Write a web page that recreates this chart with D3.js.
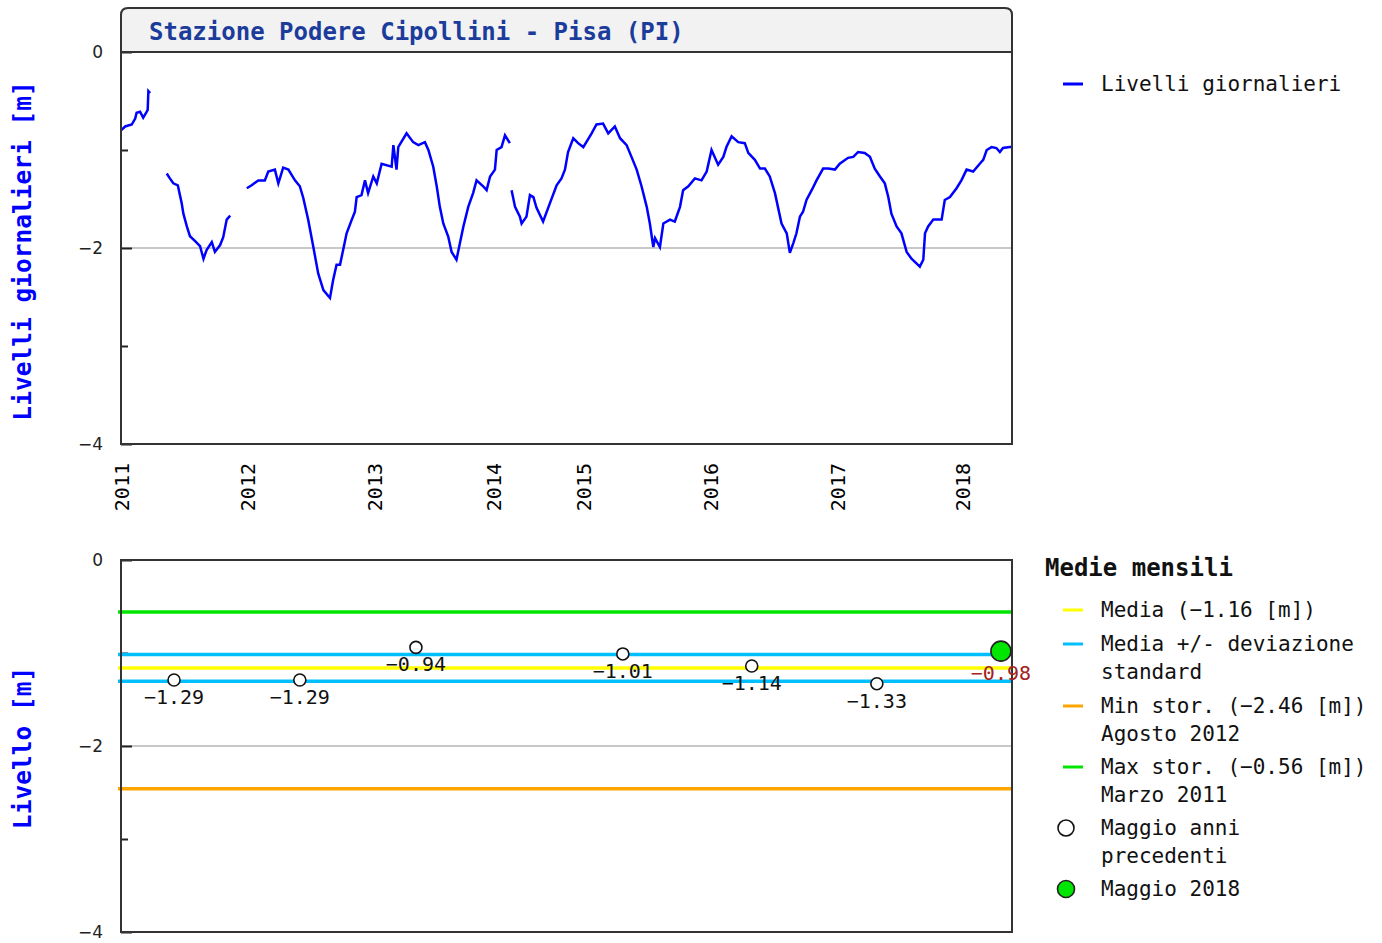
<!DOCTYPE html>
<html>
<head>
<meta charset="utf-8">
<script src="https://cdn.jsdelivr.net/npm/d3@7"></script>
<style>
  body { margin: 0; background: #fff; }
  svg { display: block; }
</style>
</head>
<body>
<div id="chart"></div>
<script>
// x axis = progressive day of record (days without data are not counted)
const yearLabels = ["2011", "2012", "2013", "2014", "2015", "2016", "2017", "2018"];
const yearStartDay = [0, 365, 731, 1073, 1333, 1699, 2066, 2429];
const lastDay = 2571;

// daily levels [m], null = missing data
const dailyDay = [
  0, 12, 31, 41, 45, 55, 64, 71, 77, 79, 84,
  108,
  132, 141, 151, 164, 167, 175, 180, 190, 199, 214, 228, 238, 247, 262, 271, 286, 295, 305, 315,
  340,
  363, 377, 396, 415, 425, 444, 454, 468, 483, 502, 516, 526, 540, 555, 569, 584, 603, 612, 622, 632,
  641, 651, 666, 675, 680, 694, 704, 713, 728, 738, 752, 781, 786, 795, 800, 824, 843, 858, 877, 887,
  901, 911, 920, 930, 944, 954, 968, 978, 988, 1002, 1016, 1026, 1045, 1055, 1065, 1079, 1084, 1098, 1108, 1122,
  1125,
  1127, 1137, 1151, 1156, 1170, 1180, 1190, 1199, 1218, 1238, 1257, 1271, 1281, 1290, 1305, 1319, 1334, 1358, 1372,
  1391, 1406, 1425, 1440, 1459, 1473, 1488, 1502, 1517, 1526, 1536, 1541, 1555, 1565, 1584, 1598, 1613, 1622, 1637, 1656,
  1675, 1690, 1704, 1723, 1738, 1747, 1762, 1781, 1800, 1810, 1829, 1844, 1858, 1872, 1887, 1906, 1921, 1930, 1940, 1949,
  1959, 1968, 1978, 1993, 2007, 2026, 2041, 2060, 2074, 2098, 2113, 2127, 2146, 2161, 2175, 2190, 2204, 2214, 2223, 2238,
  2252, 2267, 2281, 2296, 2305, 2315, 2320, 2329, 2344, 2368, 2377, 2392, 2411, 2425, 2440, 2459, 2478, 2488, 2498, 2512,
  2526, 2536, 2545, 2565, 2570
];
const dailyLevel = [
  -0.80, -0.76, -0.74, -0.68, -0.62, -0.61, -0.67, -0.63, -0.59, -0.40, -0.42,
  null,
  -1.24, -1.29, -1.34, -1.36, -1.41, -1.54, -1.65, -1.78, -1.88, -1.93, -1.98, -2.11, -2.02, -1.94, -2.04, -1.97, -1.89, -1.71, -1.67,
  null,
  -1.39, -1.36, -1.31, -1.31, -1.22, -1.20, -1.34, -1.18, -1.20, -1.31, -1.37, -1.49, -1.71, -1.99, -2.26, -2.43, -2.51, -2.33, -2.17, -2.17,
  -2.02, -1.85, -1.71, -1.63, -1.48, -1.46, -1.31, -1.44, -1.27, -1.34, -1.14, -1.17, -0.95, -1.20, -0.97, -0.83, -0.92, -0.95, -0.92, -1.00,
  -1.17, -1.37, -1.58, -1.75, -1.88, -2.04, -2.12, -1.95, -1.78, -1.58, -1.44, -1.31, -1.37, -1.41, -1.27, -1.20, -1.00, -0.97, -0.85, -0.93,
  null,
  -1.41, -1.58, -1.68, -1.75, -1.68, -1.46, -1.48, -1.59, -1.73, -1.54, -1.36, -1.29, -1.20, -1.02, -0.88, -0.93, -0.97, -0.83, -0.74,
  -0.73, -0.83, -0.76, -0.88, -0.95, -1.07, -1.20, -1.37, -1.58, -1.75, -1.99, -1.90, -1.99, -1.75, -1.71, -1.73, -1.58, -1.41, -1.37, -1.29,
  -1.31, -1.22, -1.00, -1.15, -1.07, -0.97, -0.86, -0.92, -0.93, -1.03, -1.10, -1.19, -1.19, -1.27, -1.44, -1.75, -1.85, -2.05, -1.95, -1.85,
  -1.68, -1.63, -1.51, -1.41, -1.31, -1.19, -1.19, -1.20, -1.14, -1.08, -1.07, -1.02, -1.03, -1.07, -1.19, -1.27, -1.34, -1.48, -1.65, -1.78,
  -1.85, -2.04, -2.11, -2.16, -2.19, -2.12, -1.85, -1.78, -1.71, -1.71, -1.51, -1.48, -1.39, -1.31, -1.20, -1.22, -1.14, -1.10, -1.00, -0.97,
  -0.98, -1.02, -0.98, -0.97, -0.97
];

// monthly means (May)
const maggioDay = [153, 516, 851, 1448, 1820, 2181];
const maggioLevel = [-1.29, -1.29, -0.94, -1.01, -1.14, -1.33];
const maggioCurrDay = 2539;
const maggioCurrLevel = -0.98;
const media = -1.16, devStd = 0.145;
const minStor = -2.46, maxStor = -0.56;

const mono = "'DejaVu Sans Mono', monospace";
const sans = "'DejaVu Sans', sans-serif";

function drawChart() {
  const width = 1382, height = 943;
  const left = 121, right = 1012;

  const svg = d3.select("#chart").append("svg")
    .attr("width", width).attr("height", height)
    .style("background", "#fff");

  const x = d3.scaleLinear().domain([0, lastDay]).range([left, right]);

  // ---------- top chart ----------
  const yTop = d3.scaleLinear().domain([-4, 0]).range([444, 52]);

  // title box
  svg.append("path")
    .attr("d", `M${left},52 V15 Q${left},8 ${left + 7},8 H${right - 7} Q${right},8 ${right},15 V52 Z`)
    .attr("fill", "#f2f2f2")
    .attr("stroke", "#333")
    .attr("stroke-width", 2);

  svg.append("text")
    .attr("x", 149).attr("y", 40)
    .style("font-family", mono).style("font-size", "24px").style("font-weight", "bold")
    .attr("fill", "#1c3c9c")
    .text("Stazione Podere Cipollini - Pisa (PI)");

  // grid line at -2
  svg.append("line")
    .attr("x1", left).attr("x2", right)
    .attr("y1", yTop(-2)).attr("y2", yTop(-2))
    .attr("stroke", "#c8c8c8").attr("stroke-width", 2);

  // y axis
  const yAxisTop = svg.append("g")
    .attr("transform", `translate(${left},0)`)
    .call(d3.axisLeft(yTop).tickValues([0, -2, -4]).tickSize(-11).tickPadding(18).tickFormat(d3.format("d")));
  svg.append("g")
    .attr("transform", `translate(${left},0)`)
    .call(d3.axisLeft(yTop).tickValues([-1, -3]).tickSize(-7).tickFormat(""));

  // x axis, years
  const xAxis = svg.append("g")
    .attr("transform", `translate(0,444)`)
    .call(d3.axisBottom(x).tickValues(yearStartDay).tickSize(0).tickFormat((d, i) => yearLabels[i]));
  xAxis.selectAll("text")
    .attr("transform", "rotate(-90)")
    .attr("text-anchor", "end")
    .attr("x", -19).attr("y", 0).attr("dy", "0.36em")
    .style("font-family", mono).style("font-size", "20px");

  svg.selectAll(".domain").remove();
  svg.selectAll(".tick line").attr("stroke", "#222").attr("stroke-width", 2);
  yAxisTop.selectAll("text").style("font-family", sans).style("font-size", "17px").attr("fill", "#222");

  // daily line
  const line = d3.line()
    .defined(d => d[1] !== null)
    .x(d => x(d[0]))
    .y(d => yTop(d[1]));

  svg.append("path")
    .attr("d", line(dailyDay.map((d, i) => [d, dailyLevel[i]])))
    .attr("fill", "none")
    .attr("stroke", "#0000ff")
    .attr("stroke-width", 2.5)
    .attr("stroke-linejoin", "miter");

  // frame
  svg.append("rect")
    .attr("x", left).attr("y", 52)
    .attr("width", right - left).attr("height", 444 - 52)
    .attr("fill", "none").attr("stroke", "#333").attr("stroke-width", 2);

  svg.append("text")
    .attr("transform", "translate(31,251) rotate(-90)")
    .attr("text-anchor", "middle")
    .style("font-family", mono).style("font-size", "24.5px").style("font-weight", "bold")
    .attr("fill", "#0000ff")
    .text("Livelli giornalieri [m]");

  // top legend
  svg.append("line")
    .attr("x1", 1063).attr("x2", 1083).attr("y1", 84).attr("y2", 84)
    .attr("stroke", "#0000ff").attr("stroke-width", 3);
  svg.append("text")
    .attr("x", 1101).attr("y", 84).attr("dy", "0.35em")
    .style("font-family", mono).style("font-size", "21px")
    .attr("fill", "#111")
    .text("Livelli giornalieri");

  // ---------- bottom chart ----------
  const yBot = d3.scaleLinear().domain([-4, 0]).range([932, 560]);

  svg.append("line")
    .attr("x1", left).attr("x2", right)
    .attr("y1", yBot(-2)).attr("y2", yBot(-2))
    .attr("stroke", "#c8c8c8").attr("stroke-width", 2);

  const yAxisBot = svg.append("g")
    .attr("transform", `translate(${left},0)`)
    .call(d3.axisLeft(yBot).tickValues([0, -2, -4]).tickSize(-11).tickPadding(18).tickFormat(d3.format("d")));
  svg.append("g")
    .attr("transform", `translate(${left},0)`)
    .call(d3.axisLeft(yBot).tickValues([-1, -3]).tickSize(-7).tickFormat(""));
  svg.selectAll(".domain").remove();
  svg.selectAll(".tick line").attr("stroke", "#222").attr("stroke-width", 2);
  yAxisBot.selectAll("text").style("font-family", sans).style("font-size", "17px").attr("fill", "#222");

  const refLines = [
    { v: media + devStd, c: "#00bfff" },
    { v: media - devStd, c: "#00bfff" },
    { v: media, c: "#ffff00" },
    { v: maxStor, c: "#00e600" },
    { v: minStor, c: "#ffa500" }
  ];
  svg.selectAll(".refLine").data(refLines).enter()
    .append("line")
    .attr("class", "refLine")
    .attr("x1", left - 3).attr("x2", right)
    .attr("y1", d => yBot(d.v)).attr("y2", d => yBot(d.v))
    .attr("stroke", d => d.c).attr("stroke-width", 3.5);

  svg.append("rect")
    .attr("x", left).attr("y", 560)
    .attr("width", right - left).attr("height", 932 - 560)
    .attr("fill", "none").attr("stroke", "#333").attr("stroke-width", 2);

  const fmt = d3.format(".2f");

  svg.selectAll(".maggio").data(maggioLevel).enter()
    .append("circle")
    .attr("class", "maggio")
    .attr("cx", (d, i) => x(maggioDay[i]))
    .attr("cy", d => yBot(d))
    .attr("r", 6)
    .attr("fill", "#fff").attr("stroke", "#111").attr("stroke-width", 1.6);

  svg.selectAll(".maggioLabel").data(maggioLevel).enter()
    .append("text")
    .attr("class", "maggioLabel")
    .attr("x", (d, i) => x(maggioDay[i]))
    .attr("y", d => yBot(d) + 24)
    .attr("text-anchor", "middle")
    .style("font-family", mono).style("font-size", "20px")
    .attr("fill", "#111")
    .text(d => fmt(d));

  svg.append("circle")
    .attr("cx", x(maggioCurrDay)).attr("cy", yBot(maggioCurrLevel))
    .attr("r", 10)
    .attr("fill", "#00e600").attr("stroke", "#222").attr("stroke-width", 1.6);
  svg.append("text")
    .attr("x", x(maggioCurrDay)).attr("y", yBot(maggioCurrLevel) + 29)
    .attr("text-anchor", "middle")
    .style("font-family", mono).style("font-size", "20px")
    .attr("fill", "#a52020")
    .text(fmt(maggioCurrLevel));

  svg.append("text")
    .attr("transform", "translate(31,748) rotate(-90)")
    .attr("text-anchor", "middle")
    .style("font-family", mono).style("font-size", "24.5px").style("font-weight", "bold")
    .attr("fill", "#0000ff")
    .text("Livello [m]");

  // bottom legend
  svg.append("text")
    .attr("x", 1045).attr("y", 568).attr("dy", "0.35em")
    .style("font-family", mono).style("font-size", "24px").style("font-weight", "bold")
    .attr("fill", "#111")
    .text("Medie mensili");

  const legendItems = [
    { y: 610, type: "line", c: "#ffff00", lines: ["Media (" + fmt(media) + " [m])"] },
    { y: 644, type: "line", c: "#00bfff", lines: ["Media +/- deviazione", "standard"] },
    { y: 706, type: "line", c: "#ffa500", lines: ["Min stor. (" + fmt(minStor) + " [m])", "Agosto 2012"] },
    { y: 767, type: "line", c: "#00e600", lines: ["Max stor. (" + fmt(maxStor) + " [m])", "Marzo 2011"] },
    { y: 828, type: "open", lines: ["Maggio anni", "precedenti"] },
    { y: 889, type: "full", lines: ["Maggio 2018"] }
  ];

  const leg = svg.selectAll(".legItem").data(legendItems).enter()
    .append("g").attr("class", "legItem")
    .attr("transform", d => `translate(0,${d.y})`);

  leg.filter(d => d.type === "line").append("line")
    .attr("x1", 1063).attr("x2", 1083)
    .attr("stroke", d => d.c).attr("stroke-width", 3);
  leg.filter(d => d.type === "open").append("circle")
    .attr("cx", 1066).attr("r", 8)
    .attr("fill", "#fff").attr("stroke", "#111").attr("stroke-width", 1.6);
  leg.filter(d => d.type === "full").append("circle")
    .attr("cx", 1066).attr("r", 8.5)
    .attr("fill", "#00e600").attr("stroke", "#222").attr("stroke-width", 1.6);

  leg.each(function(d) {
    const g = d3.select(this);
    d.lines.forEach((t, i) => {
      g.append("text")
        .attr("x", 1101).attr("y", i * 28).attr("dy", "0.35em")
        .style("font-family", mono).style("font-size", "21px")
        .attr("fill", "#111")
        .text(t);
    });
  });
}

drawChart();
</script>
</body>
</html>
